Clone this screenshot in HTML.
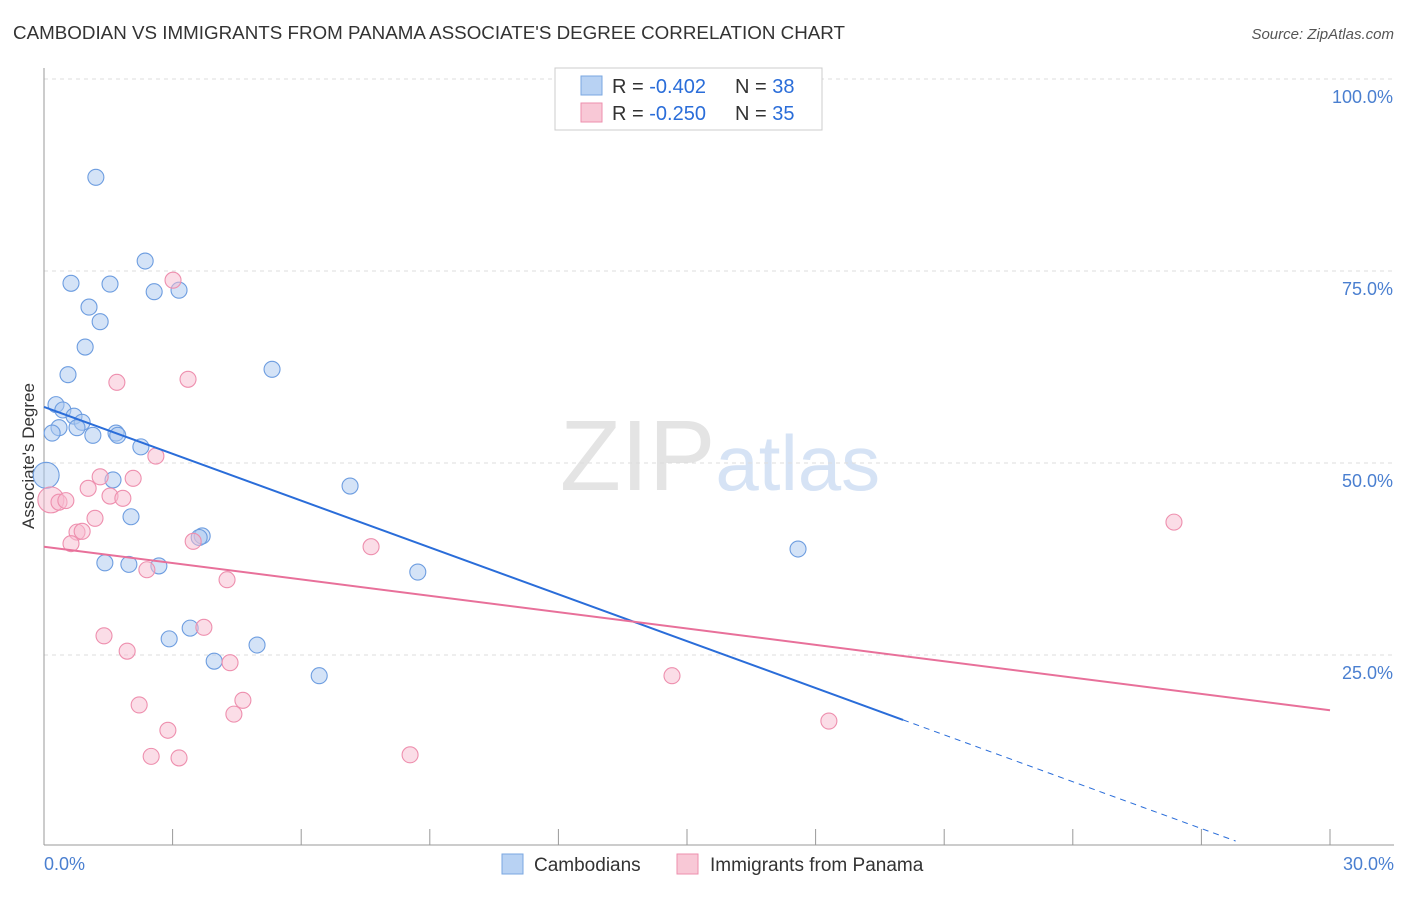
<!DOCTYPE html>
<html><head><meta charset="utf-8"><style>
body{margin:0;background:#fff;font-family:"Liberation Sans",sans-serif;}
svg text{font-family:"Liberation Sans",sans-serif;}
</style></head><body>
<svg id="chart" width="1406" height="892" viewBox="0 0 1406 892" xmlns="http://www.w3.org/2000/svg">
<text x="13" y="39" font-size="18" fill="#333" textLength="832" lengthAdjust="spacingAndGlyphs">CAMBODIAN VS IMMIGRANTS FROM PANAMA ASSOCIATE'S DEGREE CORRELATION CHART</text>
<text x="1394" y="39" font-size="15" fill="#555" text-anchor="end" font-style="italic">Source: ZipAtlas.com</text>
<text x="720" y="490" font-size="100" text-anchor="middle" fill="#e4e4e4" font-family="Liberation Serif">ZIP<tspan fill="#d6e3f5" font-family="Liberation Sans" font-size="78">atlas</tspan></text>
<g id="grid"></g>
<g id="axes"></g>
<text transform="translate(34,456) rotate(-90)" font-size="17" fill="#333" text-anchor="middle">Associate's Degree</text>
<g id="marks"></g>
<g>
<rect x="555" y="68" width="267" height="62" fill="#fff" stroke="#ccc"/>
<rect x="581" y="76" width="21" height="19" fill="#b8d2f3" stroke="#7aa7e0"/>
<text x="612" y="93" font-size="20" fill="#333">R = <tspan fill="#2a6dd9">-0.402</tspan></text>
<text x="735" y="93" font-size="20" fill="#333">N = <tspan fill="#2a6dd9">38</tspan></text>
<rect x="581" y="103" width="21" height="19" fill="#f8c8d6" stroke="#ee8fae"/>
<text x="612" y="120" font-size="20" fill="#333">R = <tspan fill="#2a6dd9">-0.250</tspan></text>
<text x="735" y="120" font-size="20" fill="#333">N = <tspan fill="#2a6dd9">35</tspan></text>
</g>
<g>
<rect x="502" y="854" width="21" height="20" fill="#b8d2f3" stroke="#7aa7e0"/>
<text x="534" y="871" font-size="19" fill="#333">Cambodians</text>
<rect x="677" y="854" width="21" height="20" fill="#f8c8d6" stroke="#ee8fae"/>
<text x="710" y="871" font-size="19" fill="#333">Immigrants from Panama</text>
</g>
</svg>
<script>
const yTicks=[100,75,50,25];
const yTickLabels=["100.0%","75.0%","50.0%","25.0%"];
const xTickVals=[0,3,6,9,12,15,18,21,24,27,30];
const xEndLabels=["0.0%","30.0%"];
const blueX=[1.21,2.36,0.63,1.54,2.57,3.15,1.05,1.31,0.96,0.56,5.32,0.28,0.44,0.70,0.89,0.35,0.77,0.19,1.14,1.68,2.26,0.05,1.61,7.14,2.03,3.69,1.42,1.98,2.68,8.72,17.59,3.41,2.92,4.97,3.97,6.42,3.62,1.72];
const blueY=[87.2,76.3,73.4,73.3,72.3,72.5,70.3,68.4,65.1,61.5,62.2,57.6,56.9,56.1,55.3,54.6,54.6,53.9,53.6,53.9,52.1,48.4,47.8,47.0,43.0,40.5,37.0,36.8,36.6,35.8,38.8,28.5,27.1,26.3,24.2,22.3,40.3,53.6];
const blueR=[8,8,8,8,8,8,8,8,8,8,8,8,8,8,8,8,8,8,8,8,8,13,8,8,8,8,8,8,8,8,8,8,8,8,8,8,8,8];
const pinkX=[3.01,1.70,3.36,2.61,1.31,2.08,1.03,1.54,1.84,0.16,0.35,0.51,1.19,0.77,0.89,0.63,3.48,7.63,2.40,4.27,26.36,3.73,1.40,1.94,4.34,14.65,4.64,2.22,4.43,2.89,18.31,2.50,3.15,8.54];
const pinkY=[73.8,60.5,60.9,50.9,48.2,48.0,46.7,45.7,45.4,45.2,44.9,45.1,42.8,41.0,41.1,39.5,39.8,39.1,36.1,34.8,42.3,28.6,27.5,25.5,24.0,22.3,19.1,18.5,17.3,15.2,16.4,11.8,11.6,12.0];
const pinkR=[8,8,8,8,8,8,8,8,8,13,8,8,8,8,8,8,8,8,8,8,8,8,8,8,8,8,8,8,8,8,8,8,8,8];
const blueTrend=[57.3,-3.7]; const blueSolidEnd=20.04;
const pinkTrend=[39.1,17.8];
const sx=v=>44+v*1286/30, sy=v=>847-v*7.68;
const NS="http://www.w3.org/2000/svg";
function mk(p,t,a){const e=document.createElementNS(NS,t);for(const k in a)e.setAttribute(k,a[k]);p.appendChild(e);return e;}
const grid=document.getElementById('grid'),axes=document.getElementById('axes'),marks=document.getElementById('marks');
yTicks.forEach((v,i)=>{
 const l=mk(grid,'line',{x1:44,x2:1394,y1:sy(v),y2:sy(v),stroke:'#ddd','stroke-dasharray':'4 4'});
 
 
 const t=mk(axes,'text',{x:1393,y:sy(v)+24,'font-size':18,fill:'#4a7fd0','text-anchor':'end'});t.textContent=yTickLabels[i];
 
 
});
mk(grid,'line',{x1:44,x2:1394,y1:79,y2:79,stroke:'#ddd','stroke-dasharray':'4 4'});
mk(axes,'line',{x1:44,x2:44,y1:68,y2:845,stroke:'#999'});
mk(axes,'line',{x1:44,x2:1394,y1:845,y2:845,stroke:'#999'});
xTickVals.forEach(v=>{const l=mk(axes,'line',{x1:sx(v),x2:sx(v),y1:829,y2:845,stroke:'#999'});
 
 });
[[0,'start',44],[30,'end',1394]].forEach((d,i)=>{const t=mk(axes,'text',{x:d[2],y:870,'font-size':18,fill:'#4a7fd0','text-anchor':d[1]});t.textContent=xEndLabels[i];
 
 });
function pts(X,Y,R,fill,stroke,name){X.forEach((x,i)=>{const c=mk(marks,'circle',{cx:sx(x),cy:sy(Y[i]),r:R[i],fill:fill,'fill-opacity':0.5,stroke:stroke,'stroke-width':1.1});
 
 });}
pts(blueX,blueY,blueR,'#a9c8f0','#6d9de0','cambodian-point');
pts(pinkX,pinkY,pinkR,'#f7bcd0','#ee8fae','panama-point');
const bAt=x=>blueTrend[0]+(blueTrend[1]-blueTrend[0])*x/30;
let l=mk(marks,'line',{x1:sx(0),y1:sy(bAt(0)),x2:sx(blueSolidEnd),y2:sy(bAt(blueSolidEnd)),stroke:'#2a6dd9','stroke-width':2});


const dEnd=27.8;
l=mk(marks,'line',{x1:sx(blueSolidEnd),y1:sy(bAt(blueSolidEnd)),x2:sx(dEnd),y2:sy(bAt(dEnd)),stroke:'#2a6dd9','stroke-width':1,'stroke-dasharray':'6 5'});


l=mk(marks,'line',{x1:sx(0),y1:sy(pinkTrend[0]),x2:sx(30),y2:sy(pinkTrend[1]),stroke:'#e8709a','stroke-width':2});


</script>
</body></html>
